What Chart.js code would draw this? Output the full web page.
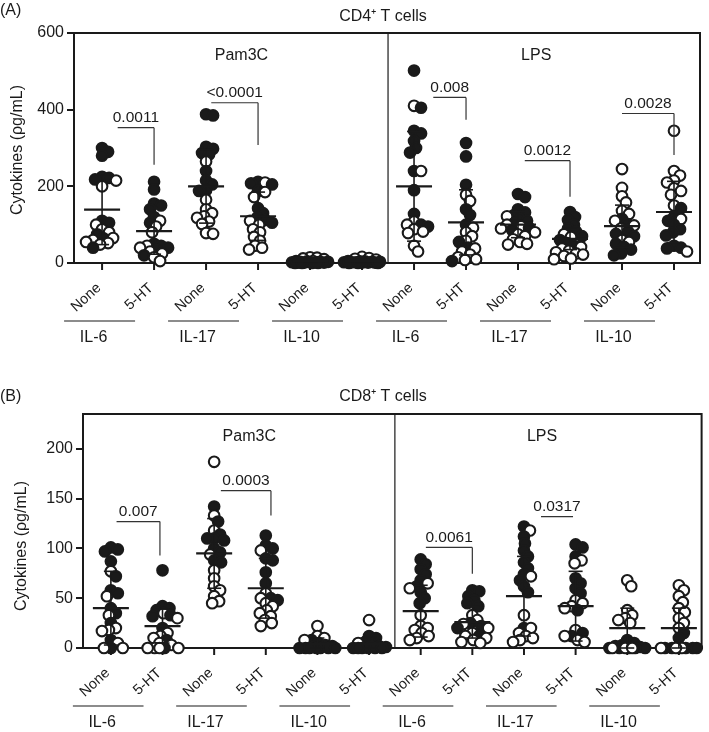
<!DOCTYPE html>
<html>
<head>
<meta charset="utf-8">
<script src="https://cdn.jsdelivr.net/npm/chart.js@4.4.1/dist/chart.umd.min.js"></script>
<style>
html,body{margin:0;padding:0;background:#fff;}
#wrap{position:relative;width:709px;height:732px;}
canvas{position:absolute;left:0;}
</style>
</head>
<body>
<div id="wrap">
<canvas id="chartA" width="709" height="366" style="top:0"></canvas>
<canvas id="chartB" width="709" height="366" style="top:366px"></canvas>
</div>
<script>
/* ==========================================
   CYTOKINES - CD4+ / CD8+ T CELLS
   ========================================== */

const FONT = '"Liberation Sans", Arial, Helvetica, sans-serif';
const INK = '#1a1a1a';

const treatments = ['None', '5-HT'];
const cytokines = ['IL-6', 'IL-17', 'IL-10', 'IL-6', 'IL-17', 'IL-10'];
const stimuli = ['Pam3C', 'LPS'];

const aTicks = [0, 200, 400, 600];
const bTicks = [0, 50, 100, 150, 200];

/* group order: IL-6 None, IL-6 5-HT, IL-17 None, IL-17 5-HT, IL-10 None, IL-10 5-HT (Pam3C, then LPS) */

// (A) CD4+ T cells
const aFilled = [
  [300, 290, 280, 225, 222, 218, 110, 105, 75, 40, 65],
  [212, 192, 155, 150, 140, 120, 105, 50, 45, 40, 35, 20],
  [388, 385, 303, 298, 287, 283, 240, 215, 205, 190, 188],
  [212, 208, 205, 188, 143, 130, 118, 112, 105],
  [0, 0, 0, 1, 1, 2, 2, 3, 3, 4, 5, 0, 1, 2],
  [0, 0, 1, 1, 2, 2, 3, 3, 4, 5, 0, 1, 2],
  [502, 405, 345, 338, 318, 300, 288, 240, 190, 128, 100, 95],
  [313, 278, 204, 140, 125, 100, 55, 40, 5],
  [180, 172, 140, 132, 125, 115, 110, 104, 92, 86],
  [133, 120, 112, 100, 90, 82, 70, 60, 52, 45],
  [115, 102, 82, 76, 70, 50, 42, 35, 25, 20],
  [143, 120, 110, 100, 88, 80, 72, 45, 40, 38]
];
const aOpen = [
  [200, 215, 100, 88, 80, 65, 60, 55, 52, 48],
  [110, 95, 80, 45, 40, 30, 25, 15, 5],
  [265, 165, 140, 130, 122, 118, 108, 102, 78, 76],
  [210, 185, 172, 110, 100, 88, 80, 68, 58, 45, 40, 35],
  [15, 14, 12, 10, 5, 3],
  [16, 13, 11, 9, 4],
  [410, 240, 108, 100, 88, 82, 78, 45, 30],
  [178, 162, 92, 80, 70, 58, 38, 30, 22, 15, 10, 8],
  [122, 100, 96, 90, 80, 75, 70, 62, 55, 50, 48],
  [75, 68, 42, 38, 32, 28, 22, 18, 12, 10, 25],
  [245, 196, 174, 158, 136, 128, 110, 98, 90, 60, 55],
  [345, 240, 228, 215, 210, 195, 188, 178, 150, 115, 30]
];
const aMean = [139, 83, 200, 122, 5, 5, 200, 106, 100, 63, 96, 133];
const aSD = [91, 60, 96, 63, 5, 5, 143, 85, 34, 28, 55, 80];

const aPvalues = ['0.0011', '<0.0001', '0.008', '0.0012', '0.0028'];
const aPfrom = [0.3, 2.1, 6.37, 8.13, 10.0];
const aPto = [1, 3, 7, 9, 11];
const aPtop = [353, 418, 432, 267, 390];
const aPend = [256, 308, 374, 173, 282];

// (B) CD8+ T cells
const bFilled = [
  [101, 99, 97, 87, 72, 58, 55, 40, 35, 25, 8, 0],
  [78, 42, 40, 38, 33, 32, 20, 8, 0],
  [142, 127, 114, 110, 108, 100, 96, 88, 86, 110],
  [113, 103, 100, 90, 88, 76, 65, 50, 48],
  [0, 0, 0, 0, 0, 1, 2, 3, 5, 8, 0, 0],
  [0, 0, 0, 0, 0, 0, 1, 2, 4, 6, 10, 12],
  [89, 84, 79, 74, 68, 62, 56, 50, 45],
  [58, 57, 52, 48, 45, 42, 25, 22, 20, 12],
  [122, 112, 105, 98, 92, 86, 80, 74, 68, 62, 56, 20],
  [104, 101, 92, 70, 65, 60, 55, 38, 15, 12],
  [8, 5, 3, 2, 1, 0, 0, 0, 0, 0],
  [15, 10, 0, 0, 0, 0, 0, 0]
];
const bOpen = [
  [77, 52, 33, 20, 18, 17, 5, 0, 0],
  [35, 30, 15, 12, 10, 5, 3, 0, 0, 0, 0],
  [187, 133, 118, 94, 78, 70, 62, 58, 52, 47, 45],
  [98, 55, 50, 45, 42, 38, 35, 32, 28, 25, 22],
  [22, 12, 10, 8],
  [28, 5],
  [65, 60, 33, 22, 20, 18, 15, 12, 10, 8],
  [33, 28, 24, 20, 15, 12, 10, 8, 6, 5],
  [118, 72, 33, 20, 15, 12, 10, 8, 6],
  [88, 85, 48, 45, 42, 40, 18, 12, 8, 6],
  [68, 62, 38, 33, 30, 28, 25, 0, 0, 0],
  [63, 58, 52, 46, 40, 36, 30, 25, 20, 0, 0, 0]
];
const bMean = [40, 22, 95, 60, 4, 4, 37, 26, 52, 42, 20, 20];
const bSD = [37, 17, 35, 30, 6, 7, 26, 16, 40, 35, 20, 20];

const bPvalues = ['0.007', '0.0003', '0.0061', '0.0317'];
const bPfrom = [0.11, 2.13, 6.1, 8.33];
const bPto = [0.95, 3.1, 7, 8.95];
const bPtop = [127, 158, 101, 132];
const bPend = [93, 133, 74.5, null];

/* ==========================================
   HELPERS
   ========================================== */

function font(size) {
  return size + 'px ' + FONT;
}

function seg(ctx, x1, y1, x2, y2) {
  ctx.beginPath();
  ctx.moveTo(x1, y1);
  ctx.lineTo(x2, y2);
  ctx.stroke();
}

function panelPlugin(p) {
  return {
    id: 'panel',
    beforeDatasetsDraw(chart) {
      const { ctx, chartArea: ca, scales: { x } } = chart;
      ctx.save();
      ctx.strokeStyle = INK;

      // frame
      ctx.lineWidth = 2;
      ctx.strokeRect(ca.left, ca.top, ca.right - ca.left, ca.bottom - ca.top);

      // divider between stimuli
      ctx.lineWidth = 1.2;
      const xd = x.getPixelForValue(5.5);
      seg(ctx, xd, ca.top, xd, ca.bottom);

      // x tick marks
      ctx.lineWidth = 2;
      for (let i = 0; i < 12; i++) {
        const xi = x.getPixelForValue(i);
        seg(ctx, xi, ca.bottom, xi, ca.bottom + 7);
      }

      ctx.fillStyle = INK;

      // rotated treatment labels
      ctx.font = font(14.5);
      ctx.textAlign = 'right';
      ctx.textBaseline = 'middle';
      for (let i = 0; i < 12; i++) {
        ctx.save();
        ctx.translate(x.getPixelForValue(i) - 3, ca.bottom + 23);
        ctx.rotate(-42 * Math.PI / 180);
        ctx.fillText(treatments[i % 2], 0, 0);
        ctx.restore();
      }

      // cytokine group lines + labels
      ctx.lineWidth = 1.2;
      ctx.font = font(16);
      ctx.textAlign = 'center';
      cytokines.forEach((c, k) => {
        const x1 = x.getPixelForValue(2 * k) - 38;
        const x2 = x.getPixelForValue(2 * k + 1) - 19;
        seg(ctx, x1, ca.bottom + 58, x2, ca.bottom + 58);
        ctx.fillText(c, (x1 + x2) / 2 - 6, ca.bottom + 75);
      });

      // stimulus labels inside the frame
      ctx.font = font(16);
      ctx.fillText(stimuli[0], x.getPixelForValue(2.68), ca.top + 23);
      ctx.fillText(stimuli[1], x.getPixelForValue(8.35), ca.top + 23);

      // panel letter + title
      ctx.textAlign = 'left';
      ctx.fillText(p.letter, 0, p.letterY);
      ctx.textAlign = 'center';
      ctx.fillText(p.title, 383, p.titleY);

      // y axis title
      ctx.save();
      ctx.translate(p.yTitleX, p.yTitleY);
      ctx.rotate(-Math.PI / 2);
      ctx.font = font(16);
      ctx.fillText('Cytokines (\u03C1g/mL)', 0, 0);
      ctx.restore();

      ctx.restore();
    },
    afterDatasetsDraw(chart) {
      const { ctx, scales: { x, y } } = chart;
      ctx.save();
      ctx.strokeStyle = INK;

      // mean +/- SD
      p.mean.forEach((m, i) => {
        const cx = x.getPixelForValue(i);
        const ym = y.getPixelForValue(m);
        const yt = y.getPixelForValue(m + p.sd[i]);
        const yb = y.getPixelForValue(Math.max(0, m - p.sd[i]));
        ctx.lineWidth = 1.6;
        seg(ctx, cx, yt, cx, yb);
        seg(ctx, cx - 7, yt, cx + 7, yt);
        seg(ctx, cx - 7, yb, cx + 7, yb);
        ctx.lineWidth = 2.2;
        seg(ctx, cx - 18, ym, cx + 18, ym);
      });

      // p value brackets
      ctx.lineWidth = 1.2;
      ctx.strokeStyle = '#333';
      ctx.fillStyle = INK;
      ctx.font = font(15.5);
      ctx.textAlign = 'center';
      ctx.textBaseline = 'bottom';
      p.pv.forEach((txt, k) => {
        const x1 = x.getPixelForValue(p.from[k]);
        const x2 = x.getPixelForValue(p.to[k]);
        const yt = y.getPixelForValue(p.top[k]);
        seg(ctx, x1, yt, x2, yt);
        if (p.end[k] !== null) {
          seg(ctx, x2, yt, x2, y.getPixelForValue(p.end[k]));
        }
        ctx.fillText(txt, (x1 + x2) / 2, yt - 2);
      });

      ctx.restore();
    }
  };
}

// simple beeswarm: spread points sideways in pixel space
function swarm(chart, filled, open) {
  const x = chart.scales.x;
  const y = chart.scales.y;
  const out = [];

  filled.forEach((f, i) => {
    const pts = f.map(v => ({ v, filled: true }))
      .concat(open[i].map(v => ({ v, filled: false })))
      .sort((a, b) => b.v - a.v);
    const cx = x.getPixelForValue(i);
    const placed = [];

    pts.forEach(pt => {
      const py = y.getPixelForValue(pt.v);
      let best = 0;
      let bestD = -1;
      for (let k = 0; k <= 36; k++) {
        const off = (k % 2 ? 1 : -1) * Math.ceil(k / 2);
        let minD = Infinity;
        placed.forEach(q => {
          const d = Math.hypot(q.px - (cx + off), q.py - py);
          if (d < minD) minD = d;
        });
        if (minD >= 7) { best = off; bestD = Infinity; break; }
        if (minD > bestD) { bestD = minD; best = off; }
      }
      placed.push({ px: cx + best, py });
      out.push({ x: x.getValueForPixel(cx + best), y: pt.v, filled: pt.filled });
    });
  });
  return out;
}

function makePanel(id, p) {
  const chart = new Chart(document.getElementById(id), {
    type: 'scatter',
    data: {
      datasets: [{
        data: [],
        pointRadius: 5.3,
        pointHoverRadius: 5.3,
        borderWidth: 2.1,
        borderColor: INK,
        backgroundColor: [],
        clip: false
      }]
    },
    options: {
      responsive: false,
      animation: false,
      layout: { padding: p.padding },
      plugins: { legend: { display: false }, tooltip: { enabled: false } },
      events: [],
      scales: {
        x: { type: 'linear', min: -0.54, max: p.xMax, display: false },
        y: {
          min: 0,
          max: p.yMax,
          afterBuildTicks: s => { s.ticks = p.ticks.map(v => ({ value: v })); },
          afterFit: s => { s.width = p.axisWidth; },
          grid: { display: true, drawOnChartArea: false, drawTicks: true, tickLength: 7, color: INK, lineWidth: 2 },
          border: { display: true, color: INK, width: 2 },
          ticks: { font: { family: FONT, size: 16 }, color: INK, padding: 3 }
        }
      }
    },
    plugins: [panelPlugin(p)]
  });

  const pts = swarm(chart, p.filled, p.open);
  chart.data.datasets[0].data = pts.map(q => ({ x: q.x, y: q.y }));
  chart.data.datasets[0].backgroundColor = pts.map(q => q.filled ? INK : '#fff');
  chart.update('none');
  return chart;
}

makePanel('chartA', {
  filled: aFilled, open: aOpen, mean: aMean, sd: aSD, ticks: aTicks, yMax: 600,
  pv: aPvalues, from: aPfrom, to: aPto, top: aPtop, end: aPend,
  letter: '(A)', title: 'CD4\u207A T cells', letterY: 11, titleY: 17,
  yTitleX: 18, yTitleY: 150,
  padding: { left: 0, top: 33, right: 9, bottom: 103 }, axisWidth: 74, xMax: 11.5
});

makePanel('chartB', {
  filled: bFilled, open: bOpen, mean: bMean, sd: bSD, ticks: bTicks, yMax: 235,
  pv: bPvalues, from: bPfrom, to: bPto, top: bPtop, end: bPend,
  letter: '(B)', title: 'CD8\u207A T cells', letterY: 31, titleY: 31,
  yTitleX: 22, yTitleY: 180,
  padding: { left: 0, top: 48, right: 2, bottom: 84 }, axisWidth: 83, xMax: 11.44
});
</script>
</body>
</html>
